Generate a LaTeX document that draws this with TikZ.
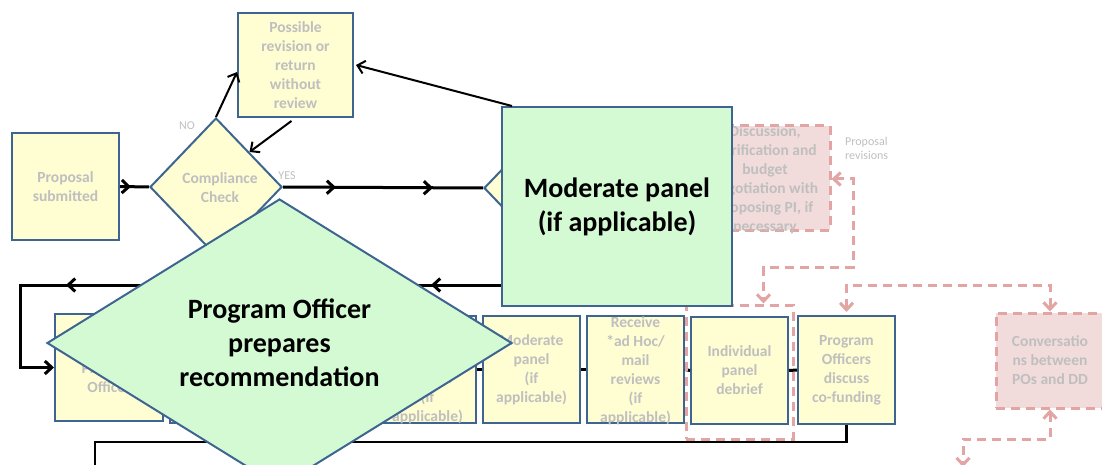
\documentclass[tikz,border=0pt]{standalone}
\usepackage{fontspec}
\setmainfont{Carlito}
\usetikzlibrary{arrows.meta,shapes.geometric,decorations.markings,calc}
\definecolor{yfill}{RGB}{255,253,210}
\definecolor{bblue}{RGB}{62,101,145}
\definecolor{gfill}{RGB}{212,250,212}
\definecolor{tgray}{RGB}{191,191,191}
\definecolor{pfill}{RGB}{242,220,219}
\definecolor{pline}{RGB}{226,165,163}
\newcommand\diagtxt{\bfseries\fontsize{15.5}{19}\selectfont}
\newcommand\diagbig{\bfseries\fontsize{28}{34}\selectfont}
\newcommand\diaglab{\fontsize{12}{14}\selectfont}
\tikzset{
  ybox/.style={draw=bblue, fill=yfill, line width=2pt, inner sep=0pt, align=center, font=\diagtxt, text=tgray},
  ydia/.style={diamond, draw=bblue, fill=yfill, line width=2pt, inner sep=0pt, align=center, font=\diagtxt, text=tgray},
  gbox/.style={draw=bblue, fill=gfill, line width=2pt, inner sep=0pt, align=center, font=\diagbig, text=black},
  gdia/.style={diamond, draw=bblue, fill=gfill, line width=2pt, inner sep=0pt, align=center, font=\diagbig, text=black},
  pbox/.style={draw=pline, fill=pfill, line width=3pt, dash pattern=on 9pt off 6pt, inner sep=0pt, align=center, font=\diagtxt, text=tgray},
  pframe/.style={draw=pline, line width=3pt, dash pattern=on 9pt off 6pt, inner sep=0pt},
  txtlab/.style={align=center, font=\diagtxt, text=tgray, inner sep=0pt},
  smalllab/.style={font=\diaglab, text=tgray, inner sep=0pt, align=left},
  thick line/.style={draw=black, line width=3pt},
  thin line/.style={draw=black, line width=2pt},
  pconn/.style={draw=pline, line width=3pt, dash pattern=on 9pt off 6pt},
  >={Straight Barb[length=7pt,width=13pt]},
}
\begin{document}
\begin{tikzpicture}[x=1pt,y=-1pt]
\useasboundingbox (0,0) rectangle (1102,465);

% bottom row boxes
\node[ybox, minimum width=108, minimum height=107] (A) at (109,367.5) {};
\node[txtlab] (Atxt) at (109,369) {\phantom{X}\\Program\\Officer};
\node[ybox, minimum width=97, minimum height=107] (B) at (218.5,369.5) {};
\node[ybox, minimum width=97, minimum height=107] (C) at (427.5,369.5) {};
\node[txtlab] (Ctxt) at (427.5,370.5) {\phantom{X}\\\phantom{X}\\\phantom{X}\\reviews\\(if\\applicable)};
\node[ybox, minimum width=97, minimum height=107] (D) at (531.5,369.5) {Moderate\\panel\\(if\\applicable)};
\node[ybox, minimum width=97, minimum height=107] (E) at (635.5,369.5) {};
\node[txtlab] (Etxt) at (635.5,370.5) {Receive\\*ad Hoc/\\mail\\reviews\\(if\\applicable)};
\node[ybox, minimum width=97, minimum height=107] (F) at (739.5,370.5) {Individual\\panel\\debrief};
\node[ybox, minimum width=97, minimum height=108] (G) at (846.5,370) {Program\\Officers\\discuss\\co-funding};

\draw[thick line] (A.east) -- (B.west);
\draw[thick line] (B.east) -- (C.west);
\draw[thick line] (C.east) -- (D.west);
\draw[thick line] (D.east) -- (E.west);
\draw[thick line] (E.east) -- (F.west);
\draw[thick line] (F.east) -- (G.west);

% bottom return line
\coordinate (botend) at (95,470);
\draw[thick line, line width=2.5pt] (G.south) |- (botend |- 0,442) -- (botend);

% dashed frame round debrief
\node[pframe, minimum width=107, minimum height=134] (encl) at (739.5,372) {};

% pink boxes
\node[pbox, minimum width=130, minimum height=104] (disc) at (765,178) {};
\node[txtlab] (disctxt) at (765,179.5) {Discussion,\\clarification and\\budget\\negotiation with\\proposing PI, if\\necessary};
\node[pbox, minimum width=108, minimum height=95] (conv) at (1050,360.5) {Conversatio\\ns between\\POs and DD};
\node[smalllab, anchor=west] (prlab) at (845,148) {Proposal\\revisions};

% dashed connectors
\draw[pconn, <->] ([yshift=-1pt]disc.east) -| (853,267) -| ([xshift=24pt]encl.north);
\draw[pconn, <->] ([yshift=3pt]G.north) |- (1050,285) -- (conv.north);
\coordinate (pend) at (963,467);
\draw[pconn, <->] (conv.south) |- (pend |- 0,439) -- (pend);

% top section
\node[ybox, minimum width=107, minimum height=107] (ps) at (65.5,186.5) {Proposal\\submitted};
\node[ydia, minimum width=132, minimum height=138] (comp) at (216,187) {};
\node[txtlab] (comptxt) at (220,187.5) {Compliance\\Check};
\node[ybox, minimum width=115, minimum height=104] (rev) at (295.5,65) {Possible\\revision or\\return\\without\\review};
\node[ydia, minimum width=132, minimum height=138] (hd) at (550,188) {};
\node[smalllab] (nolab) at (187,126) {NO};
\node[smalllab] (yeslab) at (287,176) {YES};

\draw[thick line, postaction={decorate}, decoration={markings, mark=at position 11pt with {\arrow{>}}}] (ps.east) -- (comp.west);
\draw[thick line, postaction={decorate}, decoration={markings, mark=at position 53pt with {\arrow{>}}, mark=at position 150pt with {\arrow{>}}}] (comp.east) -- (hd.west);
\draw[thin line, ->] (comp.north) -- ([yshift=-7pt]rev.west);
\draw[thin line, ->, shorten <=5pt] (rev.south) -- (comp.north east);

% green box
\node[gbox, minimum width=230, minimum height=199] (green) at (617,206.5) {Moderate panel\\(if applicable)};
\draw[thin line, ->] ([xshift=11pt]green.north west) -- ([xshift=2pt]rev.east);

% loop back to first box
\coordinate (gl) at ([yshift=22pt]green.south west);
\draw[thick line, ->, postaction={decorate}, decoration={markings, mark=at position 70pt with {\arrow{>}}, mark=at position 435pt with {\arrow{>}}}] (gl) -| (20,367.5) -- (A.west);

% big diamond
\node[gdia, minimum width=465, minimum height=262] (po) at (279.5,343) {Program Officer\\prepares\\recommendation};
\end{tikzpicture}
\end{document}
